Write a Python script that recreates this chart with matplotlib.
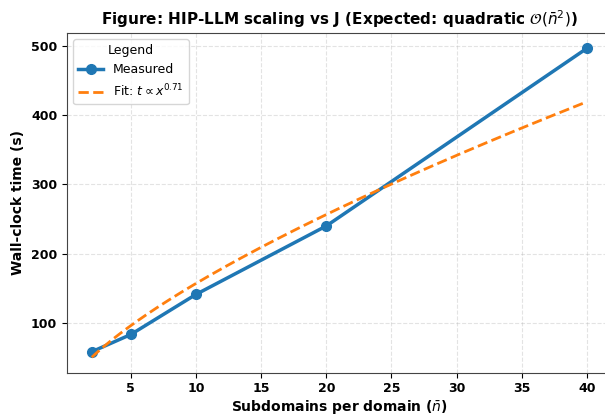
import numpy as np
import matplotlib
matplotlib.use("Agg")
import matplotlib.pyplot as plt

# Measured wall-clock times per subdomain count
subdomains = [2, 5, 10, 20, 40]
wall_time = [58, 83, 141, 240, 497]
fit_exponent = 0.71

x = np.array(subdomains, dtype=float)
y = np.array(wall_time, dtype=float)
# power-law coefficient with fixed exponent (least squares in log space)
coef = np.exp(np.mean(np.log(y) - fit_exponent * np.log(x)))
xf = np.linspace(x.min(), x.max(), 200)
yf = coef * xf ** fit_exponent

fig, ax = plt.subplots(figsize=(6.05, 4.16), dpi=100)
fig.subplots_adjust(left=0.1107, right=1.011, top=0.921, bottom=0.104)
ax.plot(x, y, "-o", color="#1f77b4", lw=2.5, ms=7, label="Measured")
ax.plot(xf, yf, "--", color="#ff7f0e", lw=2, label=r"Fit: $t \propto x^{0.71}$")

ax.set_title(r"Figure: HIP-LLM scaling vs J (Expected: quadratic $\mathcal{O}(\bar{n}^2)$)",
             fontweight="bold", fontsize=11)
ax.set_xlabel(r"Subdomains per domain ($\bar{n}$)", fontweight="bold", fontsize=10, labelpad=2)
ax.set_ylabel("Wall-clock time (s)", fontweight="bold", fontsize=10)
ax.set_xticks([5, 10, 15, 20, 25, 30, 35, 40])
ax.set_yticks([100, 200, 300, 400, 500])
for lbl in ax.get_xticklabels() + ax.get_yticklabels():
    lbl.set_fontweight("bold")
ax.tick_params(labelsize=9)
ax.grid(True, linestyle="--", alpha=0.35)
for s in ax.spines.values():
    s.set_color("#444444")
ax.legend(title="Legend", loc="upper left", fontsize=9, title_fontsize=9)
fig.savefig("out.png", dpi=100)
